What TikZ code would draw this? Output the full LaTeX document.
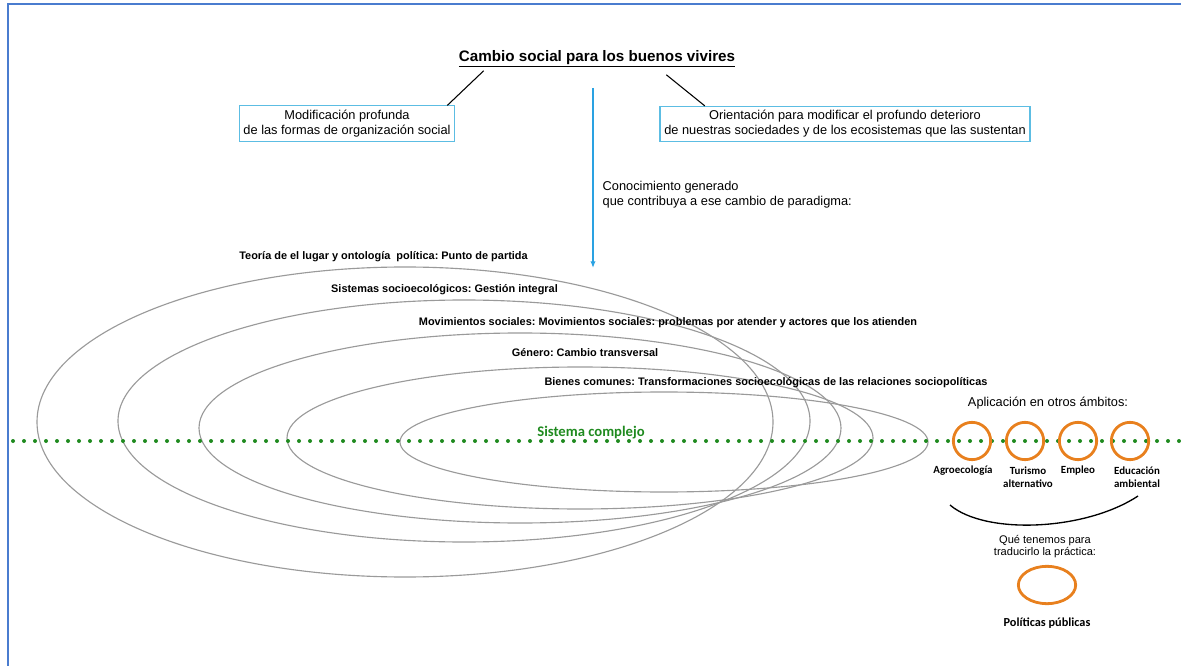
\documentclass[tikz,border=0pt]{standalone}
\usepackage{fontspec}
\setmainfont{Liberation Sans}
\newfontfamily\calibri{Carlito}
\usetikzlibrary{arrows.meta,shapes.geometric}
\frenchspacing

\definecolor{frameblue}{HTML}{4A7CCF}
\definecolor{boxblue}{HTML}{5CBDE3}
\definecolor{flowblue}{HTML}{2AA2E2}
\definecolor{ringgray}{HTML}{9A9A9A}
\definecolor{dotgreen}{HTML}{1F8A1F}
\definecolor{ringorange}{HTML}{E8801E}

\begin{document}
\begin{tikzpicture}[x=0.75pt,y=-0.75pt,
	infobox/.style={draw=boxblue,line width=0.8pt,align=center,inner xsep=3.2pt,inner ysep=3pt,font=\fontsize{9.6}{11.3}\selectfont},
	plaintext/.style={align=center,font=\fontsize{9.6}{11.3}\selectfont},
	ringlabel/.style={font=\bfseries\fontsize{8.2}{10}\selectfont},
	ring/.style={draw=ringgray,line width=0.85pt},
	orangering/.style={circle,draw=ringorange,line width=2.1pt,minimum size=28pt,inner sep=0pt},
	fieldlabel/.style={align=center,font=\calibri\bfseries\fontsize{8.2}{10}\selectfont}]
					\useasboundingbox (0,0) rectangle (1181,666);
					\draw[frameblue,line width=1.5pt] (8,666)--(8,4)--(1181,4);

					\node (title) at (597,59) {\fontsize{11.4}{13}\selectfont\bfseries\underline{Cambio social para los buenos vivires}};
					\node[infobox] (modif) at (347,123.5) {Modificación profunda\\de las formas de organización social};
					\node[infobox] (orient) at (845,124) {Orientación para modificar el profundo deterioro\\de nuestras sociedades y de los ecosistemas que las sustentan};
					\path (title.south) ++(-85pt,1pt) coordinate (tl);
					\path (title.south) ++(52pt,-2pt) coordinate (tr);
					\draw[line width=0.8pt] (tl)--([xshift=-6pt]modif.north east);
					\draw[line width=0.8pt] (tr)--([xshift=34pt]orient.north west);

					\coordinate (kstart) at (593,88);
					\coordinate (kend) at (593,268);
					\draw[flowblue,line width=1pt,-{Latex[length=5pt,width=4pt]}] (kstart)--(kend);
					\node[anchor=west,align=left,font=\fontsize{9.6}{11.3}\selectfont] (conoc) at (598,195) {Conocimiento generado\\que contribuya a ese cambio de paradigma:};

					\foreach \cx/\cy/\rx/\ry in {405/422/368/155,464/421/346/121,520/428/321/95,580/438/293/71,664/442/264/50}
					{
						\draw[ring] (\cx,\cy) ellipse [x radius=\rx, y radius=\ry];
					}

					\draw[dotgreen,line width=3pt,line cap=round,dash pattern=on 0pt off 8.25pt] (13,441)--(1181,441);

					\node[ringlabel] (lugar) at (383.5,257) {Teoría de el lugar y ontología~ política: Punto de partida};
					\node[ringlabel] (sistemas) at (444.5,290) {Sistemas socioecológicos: Gestión integral};
					\node[ringlabel] (movim) at (668,323) {Movimientos sociales: Movimientos sociales: problemas por atender y actores que los atienden};
					\node[ringlabel] (genero) at (585,353) {Género: Cambio transversal};
					\node[ringlabel] (bienes) at (766,383) {Bienes comunes: Transformaciones socioecológicas de las relaciones sociopolíticas};
					\node[font=\calibri\bfseries\fontsize{11}{13}\selectfont,text=dotgreen] (complejo) at (591,433) {Sistema complejo};

					\node[plaintext] (aplic) at (1048,403) {Aplicación en otros ámbitos:};
					\foreach \name/\x in {agro/972,turismo/1025,empleo/1078,educ/1130}
					{
						\node[orangering] (\name) at (\x,441) {};
					}
					\node[fieldlabel] (agrolab) at (963,471) {Agroecología};
					\node[fieldlabel] (turismolab) at (1028,477.5) {Turismo\\alternativo};
					\node[fieldlabel] (empleolab) at (1078,471) {Empleo};
					\node[fieldlabel] (educlab) at (1137,477.5) {Educación\\ambiental};

					\coordinate (arcl) at (950,505);
					\coordinate (arcr) at (1138,496);
					\draw[line width=1pt] (arcl) .. controls (985,535) and (1085,531) .. (arcr);

					\node[align=center,font=\fontsize{8.3}{9.5}\selectfont] (traducir) at (1045,546.5) {Qué tenemos para\\traducirlo la práctica:};
					\node[ellipse,draw=ringorange,line width=2.1pt,minimum width=43pt,minimum height=28pt,inner sep=0pt] (politicas) at (1047,585) {};
					\node[fieldlabel,font=\calibri\bfseries\fontsize{9.2}{11}\selectfont] (polilab) at (1047,623) {Políticas públicas};
				\end{tikzpicture}
\end{document}
